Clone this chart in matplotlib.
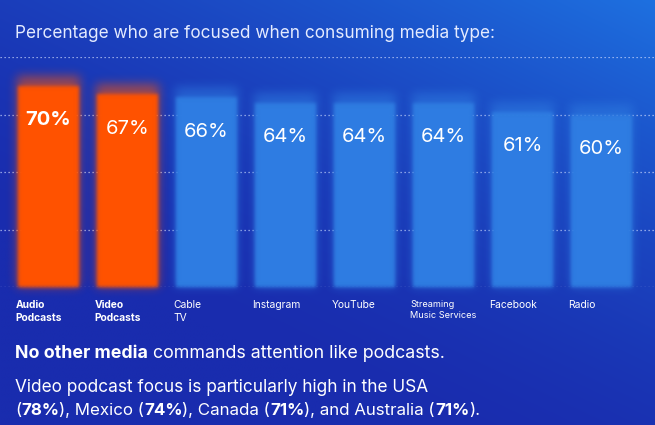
import numpy as np
import matplotlib
matplotlib.use("Agg")
import matplotlib.pyplot as plt
from matplotlib.text import Annotation

# data
categories = ["Audio\nPodcasts", "Video\nPodcasts", "Cable\nTV", "Instagram", "YouTube",
              "Streaming\nMusic Services", "Facebook", "Radio"]
values = [70, 67, 66, 64, 64, 64, 61, 60]
highlight = [True, True, False, False, False, False, False, False]
grid_levels = [0, 20, 40, 60, 80]

orange = "#ff5300"
blue = "#2f7de2"
txt = "#e4ebff"
plt.rcParams["font.family"] = ["Inter", "DejaVu Sans"]


def blur(sigma):
    # gaussian blur for agg filter (soft bar edges)
    def f(im, dpi):
        s = sigma * dpi / 100
        pad = int(np.ceil(3 * s))
        a = np.pad(im, ((pad, pad), (pad, pad), (0, 0))).astype(float)
        a[..., :3] *= a[..., 3:4]
        k = np.exp(-0.5 * (np.arange(-pad, pad + 1) / s) ** 2)
        k /= k.sum()
        for axis in (0, 1):
            out = np.zeros_like(a)
            for i, kv in enumerate(k):
                out += kv * np.roll(a, i - pad, axis=axis)
            a = out
        a[..., :3] = np.clip(a[..., :3] / np.maximum(a[..., 3:4], 1e-6), 0, 1)
        return a, -pad, -pad
    return f


fig = plt.figure(figsize=(6.55, 4.25), dpi=100)

# background gradient
bg = fig.add_axes([0, 0, 1, 1], zorder=-10)
gx, gy = np.meshgrid(np.linspace(0, 1, 300), np.linspace(1, 0, 200))
v = np.clip(0.55 * gx + 0.75 * gy - 0.35, 0, 1) ** 1.6
dark = np.array([0x19, 0x2c, 0xae]) / 255
light = np.array([0x1e, 0x76, 0xe4]) / 255
img = dark + (light - dark) * v[..., None]
bg.imshow(img, aspect="auto", extent=[0, 1, 0, 1], interpolation="bilinear")
bg.axis("off")

ax = fig.add_axes([0, 138 / 425, 1, 230 / 425])
ax.patch.set_alpha(0)
x = np.arange(len(values))
ax.set_xlim(-48.5 / 79, (655 - 48.5) / 79)
ax.set_ylim(0, 80)

for g in grid_levels:
    ax.axhline(g, color="#d2ddff", lw=0.9, ls=(0, (1, 2.2)), alpha=0.85, zorder=1)

w = 0.80
cols = [orange if h else blue for h in highlight]
glow = ax.bar(x, [val + 3.5 for val in values], width=w, color=cols, alpha=0.55,
              zorder=2, linewidth=0, clip_on=False)
for p in glow:
    p.set_agg_filter(blur(5))
core = ax.bar(x, values, width=w - 0.02, color=cols, zorder=3, linewidth=0, clip_on=False)
for p in core:
    p.set_agg_filter(blur(1.8))

for i, val in enumerate(values):
    ax.text(x[i], val - 12, f"{val}%", ha="center", va="center", color="white",
            fontsize=14.5, fontweight="bold" if i == 0 else "normal", zorder=5)
    size = 6.6 if "Streaming" in categories[i] else 7.4
    ax.text(x[i] - 0.42, -4.5, categories[i], ha="left", va="top", color="white",
            fontsize=size, fontweight="bold" if highlight[i] else "normal",
            linespacing=1.35, clip_on=False)

for s in ax.spines.values():
    s.set_visible(False)
ax.set_xticks([])
ax.set_yticks([])

# header and notes
fig.text(15 / 655, 1 - 33 / 425, "Percentage who are focused when consuming media type:",
         color=txt, fontsize=12.4, va="center")


def chain(parts, y, size):
    last = None
    for s, bold in parts:
        kw = dict(color="white", fontsize=size, fontweight="bold" if bold else "normal",
                  va="bottom", ha="left")
        if last is None:
            last = fig.text(15 / 655, 1 - y / 425, s, **kw)
        else:
            last = fig.add_artist(Annotation(s, xy=(1, 0), xycoords=last, **kw))


chain([("No other media", True), (" commands attention like podcasts.", False)], 362, 12.8)
chain([("Video podcast focus is particularly high in the USA", False)], 396, 12.4)
chain([("(", False), ("78%", True), ("), Mexico (", False), ("74%", True),
       ("), Canada (", False), ("71%", True), ("), and Australia (", False),
       ("71%", True), (").", False)], 418, 12.2)

fig.savefig("out.png", dpi=100)
